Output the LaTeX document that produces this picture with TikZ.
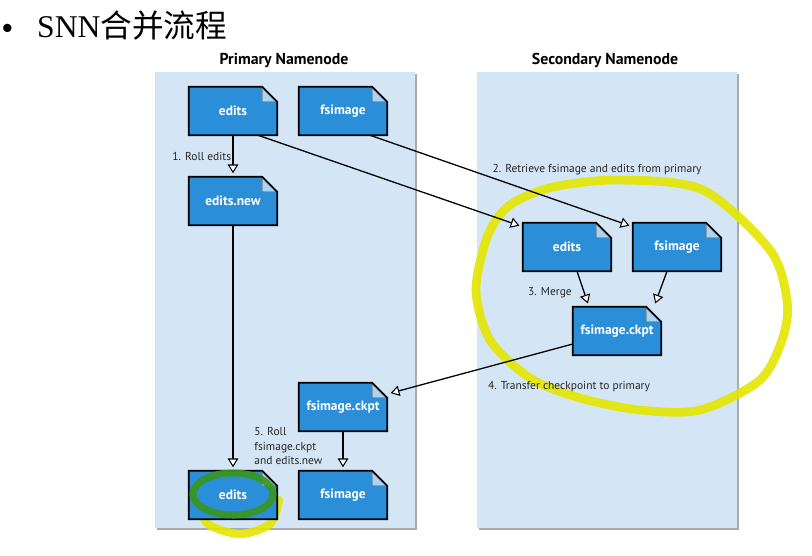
\documentclass[tikz,border=0pt]{standalone}
\usepackage{fontspec}
\setmainfont{Liberation Serif}
\newfontfamily\labelfont{PT Sans}
\newfontfamily\bulletfont{Liberation Sans}
\newfontfamily\cjk{Noto Sans CJK SC}
\usetikzlibrary{arrows.meta,shadows,calc,positioning}
\definecolor{panelblue}{RGB}{212,230,246}
\definecolor{docblue}{RGB}{42,142,216}
\definecolor{foldblue}{RGB}{170,212,240}
\definecolor{markyellow}{RGB}{228,230,0}
\definecolor{markgreen}{RGB}{58,150,28}

\begin{document}
\begin{tikzpicture}[x=0.03cm, y=-0.03cm,
    panel/.style={fill=panelblue, draw=none, drop shadow={shadow xshift=2pt, shadow yshift=-2pt, fill=black!55, opacity=0.6}},
    doc/.style={rectangle, fill=docblue, minimum width=2.64cm, minimum height=1.44cm, inner sep=0pt, text=white, font=\labelfont\bfseries\fontsize{11.5}{13}\selectfont},
    docline/.style={draw=black, line width=1.5pt, line join=miter},
    flow/.style={-{Triangle[fill=white, length=7.5pt, width=9pt, line width=0.9pt]}, line width=1.1pt, shorten >=3pt},
    steplabel/.style={font=\labelfont\fontsize{9.8}{11.5}\selectfont, text=black!85, inner sep=1pt},
    title/.style={font=\labelfont\bfseries\fontsize{13.5}{15}\selectfont}
]
    \useasboundingbox (0,0) rectangle (812,555);

    % slide heading
    \node[anchor=base west, inner sep=0pt, font=\bulletfont\fontsize{26}{28}\selectfont] (bullet) at (2,38) {•};
    \node[anchor=base west, inner sep=0pt, font=\fontsize{27}{30}\selectfont] (heading) at (37,37) {SNN{\cjk 合并流程}};

    % panels
    \path[panel] (155,72) rectangle (415,528);
    \path[panel] (477,72) rectangle (737,528);
    \node[title] (ptitle) at (284,60) {Primary Namenode};
    \node[title] (stitle) at (605,60) {Secondary Namenode};

    % hand drawn marks
    \draw[markyellow, line width=7.5pt, line cap=round, opacity=0.9] plot[smooth cycle] coordinates {
        (553,187) (620,180) (703,190) (770,250) (787,300) (783,337) (760,380) (700,410)
        (640,410) (580,398) (530,378) (490,340) (476,290) (488,235) (510,205)};
    \draw[markyellow, line width=7pt, line cap=round, opacity=0.9] plot[smooth] coordinates {
        (196,500) (208,524) (240,534) (270,524) (279,500)};

    % files
    \node[doc] (pe) at (233,111) {edits};
    \node[doc] (pf) at (343,111) {fsimage};
    \node[doc] (pn) at (233,201) {edits.new};
    \node[doc] (se) at (567,247) {edits};
    \node[doc] (sf) at (677,247) {fsimage};
    \node[doc] (sc) at (617,331) {fsimage.ckpt};
    \node[doc] (pc) at (343,407) {fsimage.ckpt};
    \node[doc] (pe2) at (233,495) {edits};
    \node[doc] (pf2) at (343,495) {fsimage};

    % folded corners
    \foreach \d in {pe,pf,pn,se,sf,sc,pc,pe2,pf2} {
        \fill[panelblue] ($(\d.north east)+(-15,0)$) -- (\d.north east) -- ($(\d.north east)+(0,15)$) -- cycle;
        \filldraw[fill=foldblue, draw=black!50, line width=0.5pt] ($(\d.north east)+(-15,0)$) -- ($(\d.north east)+(-15,15)$) -- ($(\d.north east)+(0,15)$) -- cycle;
        \draw[docline] (\d.south west) -- (\d.south east) -- ($(\d.north east)+(0,15)$) -- ($(\d.north east)+(-15,0)$) -- (\d.north west) -- cycle;
    }

    \draw[markgreen, line width=6pt, opacity=0.9] (233,494) ellipse (40 and 21);

    % steps
    \draw[flow] (pe) -- node[steplabel, left] {1. Roll edits} (pn);
    \draw[flow] ($(pe.south)+(25,0)$) -- ($(se.north west)+(0,4)$);
    \draw[flow] ($(pf.south)+(27,0)$) -- ($(sf.north west)+(0,4)$);
    \node[steplabel] (l2) at (597,170) {2. Retrieve fsimage and edits from primary};
    \draw[flow] ($(se.south)+(10,0)$) -- ($(sc.north)+(-28,0)$);
    \draw[flow] ($(sf.south)+(-10,0)$) -- ($(sc.north)+(37,0)$);
    \node[steplabel] (l3) at (550,293) {3. Merge};
    \draw[flow] ($(sc.west)+(0,13)$) -- ($(pc.east)+(0,-13)$);
    \node[steplabel] (l4) at (569,387) {4. Transfer checkpoint to primary};
    \draw[flow] (pn) -- (pe2);
    \draw[flow] (pc) -- (pf2);
    \node[steplabel, anchor=west, align=left, font=\labelfont\fontsize{9.8}{12}\selectfont] (l5) at (253,446) {5. Roll\\fsimage.ckpt\\and edits.new};
\end{tikzpicture}
\end{document}
